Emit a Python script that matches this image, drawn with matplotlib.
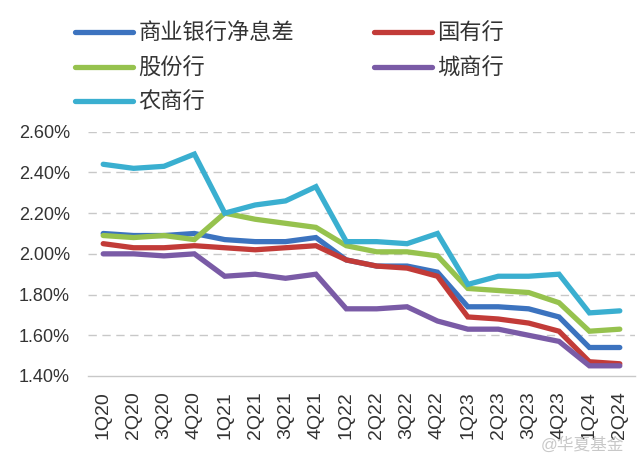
import numpy as np
import matplotlib
matplotlib.use("Agg")
import matplotlib.pyplot as plt
from matplotlib.ticker import FuncFormatter

plt.rcParams['font.family'] = ['Liberation Sans', 'Noto Sans CJK SC', 'DejaVu Sans']

# quarters and net interest margins (%)
quarters = ['1Q20', '2Q20', '3Q20', '4Q20', '1Q21', '2Q21', '3Q21', '4Q21',
            '1Q22', '2Q22', '3Q22', '4Q22', '1Q23', '2Q23', '3Q23', '4Q23',
            '1Q24', '2Q24']
nim_all = [2.10, 2.09, 2.09, 2.10, 2.07, 2.06, 2.06, 2.08,
           1.97, 1.94, 1.94, 1.91, 1.74, 1.74, 1.73, 1.69, 1.54, 1.54]
nim_state = [2.05, 2.03, 2.03, 2.04, 2.03, 2.02, 2.03, 2.04,
             1.97, 1.94, 1.93, 1.89, 1.69, 1.68, 1.66, 1.62, 1.47, 1.46]
nim_joint = [2.09, 2.08, 2.09, 2.07, 2.20, 2.17, 2.15, 2.13,
             2.04, 2.01, 2.01, 1.99, 1.83, 1.82, 1.81, 1.76, 1.62, 1.63]
nim_city = [2.00, 2.00, 1.99, 2.00, 1.89, 1.90, 1.88, 1.90,
            1.73, 1.73, 1.74, 1.67, 1.63, 1.63, 1.60, 1.57, 1.45, 1.45]
nim_rural = [2.44, 2.42, 2.43, 2.49, 2.20, 2.24, 2.26, 2.33,
             2.06, 2.06, 2.05, 2.10, 1.85, 1.89, 1.89, 1.90, 1.71, 1.72]

series = [
    ("商业银行净息差", nim_all, "#3C73BF"),
    ("国有行", nim_state, "#C23B38"),
    ("股份行", nim_joint, "#96C24E"),
    ("城商行", nim_city, "#7A5BA6"),
    ("农商行", nim_rural, "#3AAFD0"),
]

fig = plt.figure(figsize=(6.4, 4.66), dpi=100)
ax = fig.add_axes([88 / 640, 1 - 376 / 466, 547 / 640, (376 - 131.7) / 466])

x = np.arange(len(quarters))
handles = {}
for name, vals, color in series:
    ln, = ax.plot(x, vals, color=color, lw=3.8, solid_capstyle='round',
                  solid_joinstyle='miter', label=name)
    handles[name] = ln

ax.set_xlim(-0.5, len(quarters) - 0.5)
ax.set_ylim(1.40, 2.60)
ax.set_yticks(np.arange(1.40, 2.61, 0.20))
ax.yaxis.set_major_formatter(FuncFormatter(lambda v, p: f"{v:.2f}%"))
ax.set_xticks(x)
ax.set_xticklabels(quarters, rotation=90)

for v in np.arange(1.60, 2.61, 0.20):
    ax.axhline(v, color="#C8C8C8", lw=1.0, ls=(0, (6, 4)), zorder=0)

for s in ['top', 'right', 'left']:
    ax.spines[s].set_visible(False)
ax.spines['bottom'].set_color("#C8C8C8")
ax.spines['bottom'].set_linewidth(1.0)
ax.tick_params(axis='y', length=0, pad=13, labelsize=13, labelcolor="#333333")
ax.tick_params(axis='x', length=0, pad=11, labelsize=14, labelcolor="#333333")

order = ["商业银行净息差", "股份行", "农商行", "国有行", "城商行"]
fig.legend([handles[n] for n in order], order, loc='upper left',
           bbox_to_anchor=(75 / 640, 1 - 24 / 466), ncol=2, frameon=False,
           fontsize=16, handlelength=2.6, handletextpad=0.25,
           columnspacing=3.6, labelspacing=0.6, borderpad=0, borderaxespad=0,
           labelcolor="#333333")

fig.text(0.975, 0.045, "@华夏基金", ha='right', va='center', fontsize=12,
         color="#BBBBBB", alpha=0.8)

fig.savefig("out.png", dpi=100)
